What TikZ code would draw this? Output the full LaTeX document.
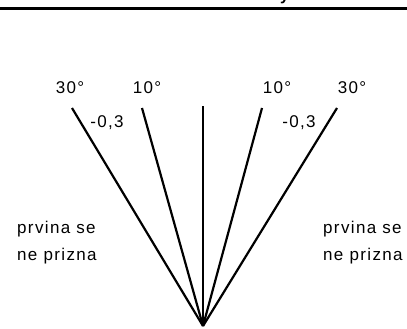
\documentclass[tikz,border=0pt]{standalone}
\usepackage{fontspec}
\setmainfont{Liberation Sans}
\newfontfamily\lblfont[LetterSpace=8]{Liberation Sans}
\usetikzlibrary{calc, positioning}

\begin{document}
\begin{tikzpicture}[
    x=1pt, y=-1pt,
    % Estilos
    ray line/.style={line width=2.2pt, black},
    rule line/.style={line width=2.4pt, black},
    angle label/.style={font=\lblfont\fontsize{17}{18}\selectfont, inner sep=0pt, anchor=base},
    side label/.style={font=\lblfont\fontsize{17}{27}\selectfont, inner sep=0pt, align=left, anchor=base west}
]
    \useasboundingbox (0,0) rectangle (407,329);

    % =========================================================================
    % 1. Linea superior (resto del titulo)
    % =========================================================================
    \draw[rule line] (0,8.5) -- (407,8.5);
    \node[font=\bfseries\fontsize{16}{18}\selectfont, inner sep=0pt, anchor=base west] (cut) at (280,0.8) {y};

    % =========================================================================
    % 2. Coordenadas del abanico
    % =========================================================================
    \coordinate (tip) at (203, 326);
    \coordinate (l30) at (72, 108);
    \coordinate (l10) at (142, 108);
    \coordinate (mid) at (203, 106);
    \coordinate (r10) at (262, 108);
    \coordinate (r30) at (337, 108);

    % =========================================================================
    % 3. Rayos
    % =========================================================================
    \foreach \t in {l30, l10, mid, r10, r30} {
        \draw[ray line] (tip) -- (\t);
    }

    % =========================================================================
    % 4. Etiquetas
    % =========================================================================
    \node[angle label] (a30l) at (70, 93) {30°};
    \node[angle label] (a10l) at (147, 93) {10°};
    \node[angle label] (a10r) at (277, 93) {10°};
    \node[angle label] (a30r) at (352, 93) {30°};
    \node[angle label] (pl) at (107, 127) {-0,3};
    \node[angle label] (pr) at (299, 127) {-0,3};

    \node[side label] (left) at (17, 260) {prvina se\\ne prizna};
    \node[side label] (right) at (323, 260) {prvina se\\ne prizna};
\end{tikzpicture}
\end{document}
